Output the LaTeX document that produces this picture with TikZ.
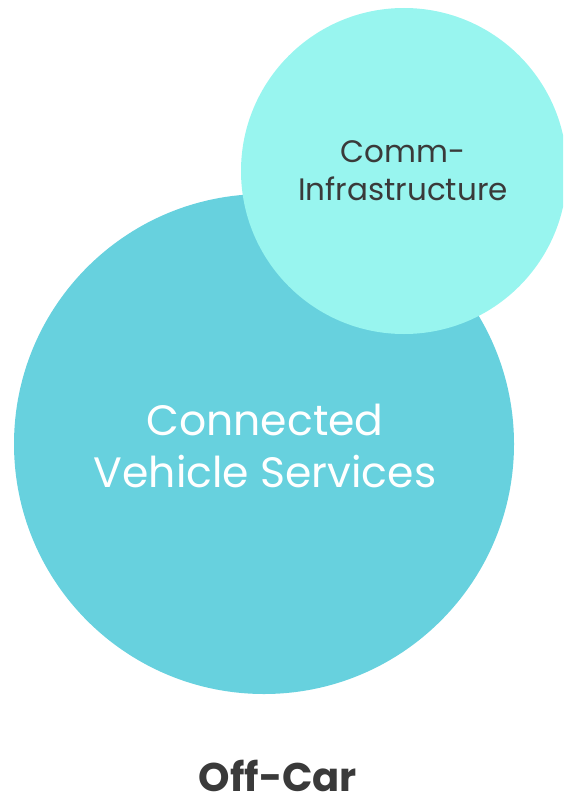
\documentclass[tikz,border=0pt]{standalone}
\usepackage{fontspec}
\setmainfont{Poppins}
\definecolor{bigc}{HTML}{67D1DE}
\definecolor{smallc}{HTML}{98F5EF}
\definecolor{darktxt}{HTML}{3A3A3A}
\begin{document}
\begin{tikzpicture}[x=1pt,y=-1pt,
  lbl/.style={align=center,inner sep=0pt}]
\useasboundingbox (0,0) rectangle (563,797);
\begin{scope}
\clip (0,0) rectangle (563,797);
\fill[bigc] (264,444) circle (250);
\fill[smallc] (404,171) circle (163);
\end{scope}
\node[lbl,text=white,font=\fontsize{42.5}{52}\selectfont] (cvs) at (265,446) {Connected\\Vehicle Services};
\node[lbl,text=darktxt,font=\fontsize{31}{38}\selectfont] (ci) at (403,171) {Comm-\\Infrastructure};
\node[inner sep=0pt,text depth=0pt,text=darktxt,font=\bfseries\fontsize{40}{44}\selectfont,anchor=base] (oc) at (278,791) {Off-Car};
\end{tikzpicture}
\end{document}
